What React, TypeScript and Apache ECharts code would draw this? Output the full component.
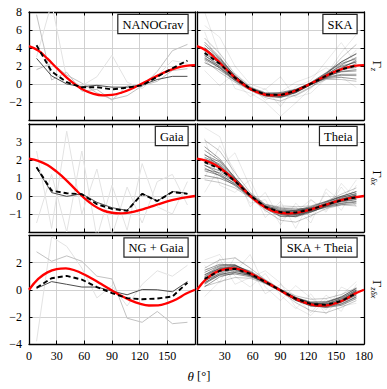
import React, { useEffect, useRef } from "react";
import * as echarts from "echarts";

const SERIF = "'Liberation Serif', 'DejaVu Serif', serif";

// angular bins (deg) used by the estimated correlations
const THETA_BINS = [8.2, 24.5, 40.9, 57.3, 73.6, 90, 106.4, 122.7, 139.1, 155.5, 171.8];
// fine grid for the theoretical curves
const THETA_FINE = [0, 10, 20, 30, 40, 50, 60, 70, 80, 90, 100, 110, 120, 130, 140, 150, 160, 170, 180];

const THEORY_Z = [4.2, 3.72, 2.81, 1.78, 0.79, -0.05, -0.69, -1.1, -1.27, -1.22, -0.97, -0.58, -0.09, 0.44, 0.96, 1.43, 1.79, 2.02, 2.1];
const THEORY_DX = [2.07, 1.95, 1.72, 1.35, 0.9, 0.38, -0.12, -0.52, -0.8, -0.93, -0.96, -0.91, -0.79, -0.63, -0.46, -0.3, -0.17, -0.07, 0];
const THEORY_ZDX = [0, 0.8, 1.28, 1.52, 1.57, 1.42, 1.12, 0.75, 0.35, -0.05, -0.45, -0.78, -1.03, -1.16, -1.15, -0.98, -0.7, -0.3, 0];

// NANOGrav
const NG_MEAN = [4.3, 1.4, 0.2, -0.37, -0.35, -0.6, -0.4, -0.15, 0.8, 1.75, 2.6];
const NG_DARK = [2.85, 0.9, 0.0, -0.3, -0.15, -0.35, -0.35, -0.1, 0.5, 0.85, 0.85];
const NG_LIGHT = [
  [7.7, 0.45, 1.3, -0.8, -0.6, -1.8, -0.2, -0.3, 1.4, 3.7, 4.4],
  [1.6, 2.3, 1.0, 0.1, -1.0, -1.7, -1.3, -0.2, 0.3, 1.5, 1.7],
];
const NG_FAINT = [
  [3.0, 9.0, 0.6, -0.2, 0.8, 3.2, 0.2, -0.5, 0.9, 2.6, 2.3],
];

// Gaia
const GAIA_MEAN = [1.6, 0.3, 0.15, 0.1, -0.45, -0.72, -0.82, 0.12, -0.28, 0.22, 0.12];
const GAIA_DARK = [1.57, 0.19, -0.02, 0.12, -0.35, -0.65, -0.8, 0.15, -0.28, 0.25, 0.15];
const GAIA_FAINT = [
  [2.5, -1.8, 3.6, -1.0, 1.5, -2.2, 0.5, -1.5, 0.8, 1.2, -0.5],
  [-1.5, 1.2, -2.0, 2.5, -2.3, 0.6, -1.9, 1.8, -0.6, -1.0, 0.8],
];

// NG + Gaia
const NGG_MEAN = [0.15, 0.85, 1.02, 0.75, 0.2, -0.25, -0.62, -0.7, -0.65, -0.5, 0.52];
const NGG_DARK = [0.1, 0.6, 0.4, 0.2, 0.2, -0.1, -0.37, 0.02, 0.0, -0.15, 0.6];
const NGG_LIGHT = [
  [2.8, 2.1, 2.5, 2.1, 1.0, 0.8, -2.1, -2.4, -1.6, -2.5, -2.4],
];
const NGG_FAINT = [
  [-3.8, 3.9, 3.2, 1.6, -0.6, 0.3, -1.2, 0.4, 1.4, 1.0, 1.8],
];

// SKA
const SKA_MEAN = [3.45, 2.25, 0.68, -0.52, -1.18, -1.22, -0.76, 0.03, 0.9, 1.62, 2.05];
const SKA_REAL = [
  [4.35, 2.84, 0.93, -0.45, -1.14, -1.3, -0.86, 0.0, 1.14, 2.45, 3.4],
  [2.73, 1.8, 0.53, -0.55, -1.1, -1.02, -0.64, 0.06, 0.75, 1.07, 1.08],
  [3.81, 2.61, 0.81, -0.52, -1.28, -1.47, -0.92, -0.02, 0.99, 2.12, 2.95],
  [3.15, 2.12, 0.68, -0.48, -1.06, -1.1, -0.76, -0.03, 0.66, 0.96, 0.93],
  [4.05, 2.48, 0.68, -0.58, -1.3, -1.32, -0.72, 0.12, 1.2, 2.28, 2.8],
  [2.37, 1.58, 0.43, -0.6, -1.18, -1.15, -0.66, 0.09, 0.9, 1.4, 1.6],
  [3.57, 2.25, 0.61, -0.61, -1.36, -1.52, -0.96, -0.05, 0.9, 1.84, 2.5],
  [3.33, 2.39, 0.86, -0.39, -0.98, -0.95, -0.58, 0.1, 0.99, 1.62, 1.83],
  [4.65, 2.97, 0.9, -0.49, -1.22, -1.35, -0.9, -0.09, 0.72, 1.51, 2.28],
  [2.97, 1.76, 0.36, -0.67, -1.26, -1.17, -0.64, 0.17, 1.26, 2.45, 3.33],
  [3.69, 2.52, 0.78, -0.5, -1.2, -1.2, -0.7, 0.05, 0.84, 1.35, 1.45],
  [2.85, 1.98, 0.63, -0.52, -1.14, -1.22, -0.82, -0.06, 0.6, 0.74, 0.55],
  [3.99, 2.75, 0.88, -0.43, -1.12, -1.27, -0.84, 0.03, 1.05, 2.0, 2.43],
  [3.21, 1.89, 0.46, -0.63, -1.24, -1.37, -0.98, -0.1, 0.78, 1.73, 2.65],
];
const SKA_OUTER = [
  [5.1, 3.4, 1.1, -0.3, -1.0, -1.4, -1.3, -0.4, 1.0, 2.9, 4.4],
  [2.6, 1.3, 0.2, -0.7, -1.5, -1.9, -1.2, -0.3, 0.5, 0.5, 0.3],
];
const SKA_FAINT = [
  [8.0, 3.2, -0.5, -1.0, -2.0, -3.6, -2.1, -0.5, 1.0, 3.5, 5.5],
  [6.5, 5.2, 2.0, 0.0, -0.6, 0.8, -1.5, -1.0, 0.6, 2.0, 3.8],
  [1.5, -0.2, 1.2, -0.2, -1.8, -0.9, 0.2, 0.8, 1.8, 0.8, -0.4],
  [5.8, 1.5, 0.3, -1.4, -0.5, -2.5, -0.3, 0.4, 2.5, 4.6, 2.2],
];

// Theia
const THEIA_MEAN = [1.9, 1.5, 0.83, 0.03, -0.6, -0.9, -0.92, -0.75, -0.48, -0.24, -0.07];
const THEIA_REAL = [
  [2.53, 1.96, 1.03, 0.08, -0.58, -0.96, -1.03, -0.79, -0.36, -0.02, 0.25],
  [1.4, 1.15, 0.71, 0.01, -0.55, -0.74, -0.79, -0.71, -0.56, -0.39, -0.3],
  [2.15, 1.78, 0.93, 0.03, -0.66, -1.1, -1.1, -0.8, -0.44, -0.1, 0.15],
  [1.69, 1.4, 0.83, 0.06, -0.53, -0.8, -0.92, -0.82, -0.6, -0.42, -0.34],
  [2.32, 1.68, 0.83, -0.01, -0.67, -0.98, -0.88, -0.64, -0.33, -0.06, 0.11],
  [1.14, 0.98, 0.63, -0.02, -0.6, -0.84, -0.81, -0.68, -0.48, -0.3, -0.18],
  [1.98, 1.5, 0.77, -0.03, -0.71, -1.14, -1.14, -0.84, -0.48, -0.18, 0.04],
  [1.82, 1.61, 0.97, 0.12, -0.48, -0.68, -0.72, -0.66, -0.44, -0.24, -0.12],
  [2.74, 2.06, 1.01, 0.05, -0.62, -1.0, -1.07, -0.89, -0.57, -0.27, -0.02],
  [1.56, 1.12, 0.57, -0.07, -0.65, -0.86, -0.79, -0.59, -0.3, -0.02, 0.24],
  [2.07, 1.71, 0.91, 0.04, -0.61, -0.88, -0.85, -0.73, -0.51, -0.32, -0.21],
  [1.48, 1.29, 0.79, 0.03, -0.58, -0.9, -0.99, -0.86, -0.63, -0.48, -0.43],
  [2.28, 1.89, 0.99, 0.09, -0.56, -0.94, -1.01, -0.75, -0.41, -0.14, 0.02],
  [1.73, 1.22, 0.65, -0.04, -0.64, -1.02, -1.16, -0.91, -0.54, -0.21, 0.07],
];
const THEIA_OUTER = [
  [3.1, 2.5, 1.3, 0.2, -0.45, -0.62, -0.6, -0.55, -0.3, 0.1, 0.45],
  [0.9, 0.75, 0.45, -0.1, -0.8, -1.35, -1.45, -1.1, -0.7, -0.5, -0.55],
];
const THEIA_FAINT = [
  [3.8, 3.3, 1.0, -0.4, -0.2, -1.6, -0.4, -1.2, 0.2, -0.8, 0.6],
  [0.2, 1.6, 2.4, 0.5, -1.2, -0.3, -1.8, -0.2, -0.9, 0.5, -0.6],
  [3.2, 0.6, 0.2, 0.9, -0.9, -0.5, -0.6, -1.5, 0.4, -0.3, 0.9],
  [1.0, 2.8, 1.4, -0.6, 0.2, -1.3, -0.9, -0.2, -0.8, 0.7, -0.2],
];

// SKA + Theia
const ST_MEAN = [0.8, 1.4, 1.55, 1.18, 0.58, -0.04, -0.66, -1.05, -1.12, -0.83, -0.25];
const ST_REAL = [
  [1.28, 1.79, 1.85, 1.29, 0.6, -0.06, -0.72, -1.09, -0.96, -0.53, 0.11],
  [0.42, 1.1, 1.37, 1.14, 0.63, 0.01, -0.59, -1.01, -1.22, -1.03, -0.51],
  [0.99, 1.64, 1.7, 1.18, 0.52, -0.1, -0.76, -1.1, -1.06, -0.65, -0.01],
  [0.64, 1.31, 1.55, 1.25, 0.65, -0.01, -0.66, -1.12, -1.28, -1.07, -0.55],
  [1.12, 1.55, 1.55, 1.09, 0.51, -0.06, -0.64, -0.94, -0.92, -0.59, -0.05],
  [0.22, 0.95, 1.25, 1.07, 0.58, -0.02, -0.6, -0.98, -1.12, -0.91, -0.37],
  [0.86, 1.4, 1.46, 1.05, 0.47, -0.11, -0.78, -1.14, -1.12, -0.75, -0.13],
  [0.74, 1.49, 1.76, 1.38, 0.7, 0.03, -0.55, -0.96, -1.06, -0.83, -0.31],
  [1.44, 1.88, 1.82, 1.22, 0.56, -0.07, -0.74, -1.19, -1.24, -0.87, -0.19],
  [0.54, 1.07, 1.16, 0.96, 0.53, -0.03, -0.59, -0.89, -0.88, -0.53, 0.09],
  [0.93, 1.58, 1.67, 1.2, 0.57, -0.03, -0.62, -1.03, -1.16, -0.93, -0.41],
  [0.48, 1.22, 1.49, 1.18, 0.6, -0.04, -0.7, -1.16, -1.32, -1.15, -0.65],
  [1.09, 1.73, 1.79, 1.31, 0.62, -0.05, -0.71, -1.05, -1.02, -0.69, -0.15],
  [0.67, 1.16, 1.28, 1.03, 0.54, -0.08, -0.79, -1.21, -1.2, -0.79, -0.09],
];
const ST_OUTER = [
  [1.6, 2.2, 2.35, 1.6, 0.75, 0.05, -0.45, -0.7, -0.65, -0.35, 0.15],
  [0.25, 0.6, 0.9, 0.85, 0.45, -0.12, -0.95, -1.55, -1.7, -1.3, -0.8],
];
const ST_FAINT = [
  [2.2, 2.6, 1.0, 0.2, 1.2, -0.4, -1.4, -0.3, -1.8, -0.4, 0.6],
  [-0.5, 0.6, 2.4, 1.6, -0.3, 0.4, -0.5, -1.7, -0.4, -1.2, -1.0],
  [1.8, 0.5, 1.3, 2.6, 0.2, -0.8, 0.3, -0.6, -1.5, 0.2, -0.3],
  [0.2, 2.3, 0.4, 0.9, 1.4, 0.5, -1.3, -1.9, -0.7, -1.6, 0.4],
];

const PANEL_NAMES = ["NANOGrav", "SKA", "Gaia", "Theia", "NG + Gaia", "SKA + Theia"];
const Y_RANGES = [
  { min: -4, max: 8, interval: 2, showMin: false, showMax: true },
  { min: -2, max: 4, interval: 1, showMin: false, showMax: false },
  { min: -4, max: 4, interval: 2, showMin: true, showMax: false },
];
const GAMMA_SUBS = ["z", "δx", "zδx"];

const GRIDS = [
  { left: 29, top: 12, width: 166, height: 108 },
  { left: 197, top: 12, width: 167, height: 108 },
  { left: 29, top: 124, width: 166, height: 108 },
  { left: 197, top: 124, width: 167, height: 108 },
  { left: 29, top: 235.5, width: 166, height: 108.5 },
  { left: 197, top: 235.5, width: 167, height: 108.5 },
];

function lineSeries(gi: number, xs: number[], ys: number[], lineStyle: any, z: number, smooth: any = false) {
  return {
    type: "line",
    xAxisIndex: 2 * gi,
    yAxisIndex: 2 * gi,
    data: xs.map((x, i) => [x, ys[i]]),
    symbol: "none",
    silent: true,
    smooth,
    clip: true,
    lineStyle,
    z,
    animation: false,
  };
}

const fmtMinus = (v: number) => (v < 0 ? "\u2212" + Math.abs(v) : String(v));

function buildOption() {
  const xAxis: any[] = [];
  const yAxis: any[] = [];
  const series: any[] = [];
  const graphic: any[] = [];

  const tick = { show: true, inside: true, length: 3.5, lineStyle: { color: "#000", width: 1 } };
  const axLine = { show: true, onZero: false, lineStyle: { color: "#000", width: 1.3 } };
  const split = { show: true, lineStyle: { color: "#cccccc", width: 0.9 } };

  for (let gi = 0; gi < 6; gi++) {
    const row = Math.floor(gi / 2);
    const col = gi % 2;
    const yr = Y_RANGES[row];
    xAxis.push({
      type: "value", gridIndex: gi, min: 0, max: 180, interval: 30, position: "bottom",
      axisLine: axLine, axisTick: tick, splitLine: split,
      axisLabel: {
        show: row === 2, margin: 6, showMinLabel: col === 0, showMaxLabel: col === 1,
        color: "#000", fontFamily: SERIF, fontSize: 12,
      },
    });
    xAxis.push({
      type: "value", gridIndex: gi, min: 0, max: 180, interval: 30, position: "top",
      axisLine: axLine, axisTick: tick, splitLine: { show: false }, axisLabel: { show: false },
    });
    yAxis.push({
      type: "value", gridIndex: gi, min: yr.min, max: yr.max, interval: yr.interval, position: "left",
      axisLine: axLine, axisTick: tick, splitLine: split,
      axisLabel: {
        show: col === 0, margin: 7, showMinLabel: yr.showMin, showMaxLabel: yr.showMax,
        color: "#000", fontFamily: SERIF, fontSize: 12, formatter: fmtMinus,
      },
    });
    yAxis.push({
      type: "value", gridIndex: gi, min: yr.min, max: yr.max, interval: yr.interval, position: "right",
      axisLine: axLine, axisTick: tick, splitLine: { show: false }, axisLabel: { show: false },
    });
  }

  const red = { color: "#ff0000", width: 2.3 };
  const dashed = { color: "#000", width: 1.9, type: [5, 3] };
  const darkLeft = { color: "#4d4d4d", width: 1 };
  const lightLeft = { color: "#c2c2c2", width: 1 };
  const faintLeft = { color: "#e3e3e3", width: 1 };
  const real = { color: "rgba(35,35,35,0.45)", width: 1 };
  const outer = { color: "rgba(50,50,50,0.28)", width: 1 };
  const faint = { color: "rgba(0,0,0,0.1)", width: 0.9 };

  const left: [number, number[], number[], number[][], number[][], number[]][] = [
    [0, NG_MEAN, NG_DARK, NG_LIGHT, NG_FAINT, THEORY_Z],
    [2, GAIA_MEAN, GAIA_DARK, [], GAIA_FAINT, THEORY_DX],
    [4, NGG_MEAN, NGG_DARK, NGG_LIGHT, NGG_FAINT, THEORY_ZDX],
  ];
  left.forEach(([gi, mean, dark, light, fnt, theory]) => {
    fnt.forEach((l) => series.push(lineSeries(gi, THETA_BINS, l, faintLeft, 1)));
    light.forEach((l) => series.push(lineSeries(gi, THETA_BINS, l, lightLeft, 2)));
    series.push(lineSeries(gi, THETA_BINS, dark, darkLeft, 3));
    series.push(lineSeries(gi, THETA_FINE, theory, red, 4, 0.4));
    series.push(lineSeries(gi, THETA_BINS, mean, dashed, 5));
  });

  const right: [number, number[], number[][], number[][], number[][], number[]][] = [
    [1, SKA_MEAN, SKA_REAL, SKA_OUTER, SKA_FAINT, THEORY_Z],
    [3, THEIA_MEAN, THEIA_REAL, THEIA_OUTER, THEIA_FAINT, THEORY_DX],
    [5, ST_MEAN, ST_REAL, ST_OUTER, ST_FAINT, THEORY_ZDX],
  ];
  right.forEach(([gi, mean, reals, outers, fnts, theory]) => {
    fnts.forEach((l) => series.push(lineSeries(gi, THETA_BINS, l, faint, 1)));
    outers.forEach((l) => series.push(lineSeries(gi, THETA_BINS, l, outer, 2)));
    reals.forEach((l) => series.push(lineSeries(gi, THETA_BINS, l, real, 2)));
    series.push(lineSeries(gi, THETA_FINE, theory, red, 4, 0.4));
    series.push(lineSeries(gi, THETA_BINS, mean, { color: "#000", width: 1.9, type: [4, 3.5] }, 5));
  });

  // legend boxes
  PANEL_NAMES.forEach((name, gi) => {
    const g = GRIDS[gi];
    graphic.push({
      type: "text",
      x: g.left + g.width - 7.5,
      y: g.top + 3,
      z: 100,
      style: {
        text: name, fontFamily: SERIF, fontSize: 12.5, fill: "#000",
        align: "right", verticalAlign: "top",
        backgroundColor: "#fff", borderColor: "#222", borderWidth: 1.2,
        padding: [3, 4, 2, 4],
      },
    });
  });

  // right-hand Γ labels
  const subW = [3.5, 8, 12];
  for (let row = 0; row < 3; row++) {
    const g = GRIDS[row * 2 + 1];
    const cy = g.top + g.height / 2;
    const W = 7.2 + subW[row];
    graphic.push({
      type: "group", x: 377, y: cy, rotation: -Math.PI / 2,
      children: [
        { type: "text", x: -W / 2, y: 0, style: { text: "Γ", fontFamily: SERIF, fontSize: 12.5, fill: "#000", align: "left", verticalAlign: "middle" } },
        { type: "text", x: -W / 2 + 7.2, y: 3.5, style: { text: GAMMA_SUBS[row], fontFamily: SERIF, fontSize: 8.5, fontStyle: "italic", fill: "#000", align: "left", verticalAlign: "middle" } },
      ],
    });
  }

  // x axis title
  graphic.push({
    type: "text", x: 199, y: 376,
    style: {
      text: "{it|θ} [°]", fontFamily: SERIF, fontSize: 12.5, fill: "#000",
      align: "center", verticalAlign: "middle",
      rich: { it: { fontStyle: "italic", fontFamily: SERIF, fontSize: 13, fill: "#000" } },
    },
  });

  return {
    animation: false,
    backgroundColor: "#fff",
    grid: GRIDS.map((g) => ({ ...g, containLabel: false })),
    xAxis, yAxis, series, graphic,
  };
}

export default function App() {
  const ref = useRef<HTMLDivElement>(null);
  useEffect(() => {
    if (!ref.current) return;
    const chart = echarts.init(ref.current, null, { renderer: "svg" });
    chart.setOption(buildOption() as any);
    return () => chart.dispose();
  }, []);
  return (
    <div
      ref={ref}
      style={{ position: "absolute", left: 0, top: 0, width: 387, height: 389, background: "#fff" }}
    />
  );
}
